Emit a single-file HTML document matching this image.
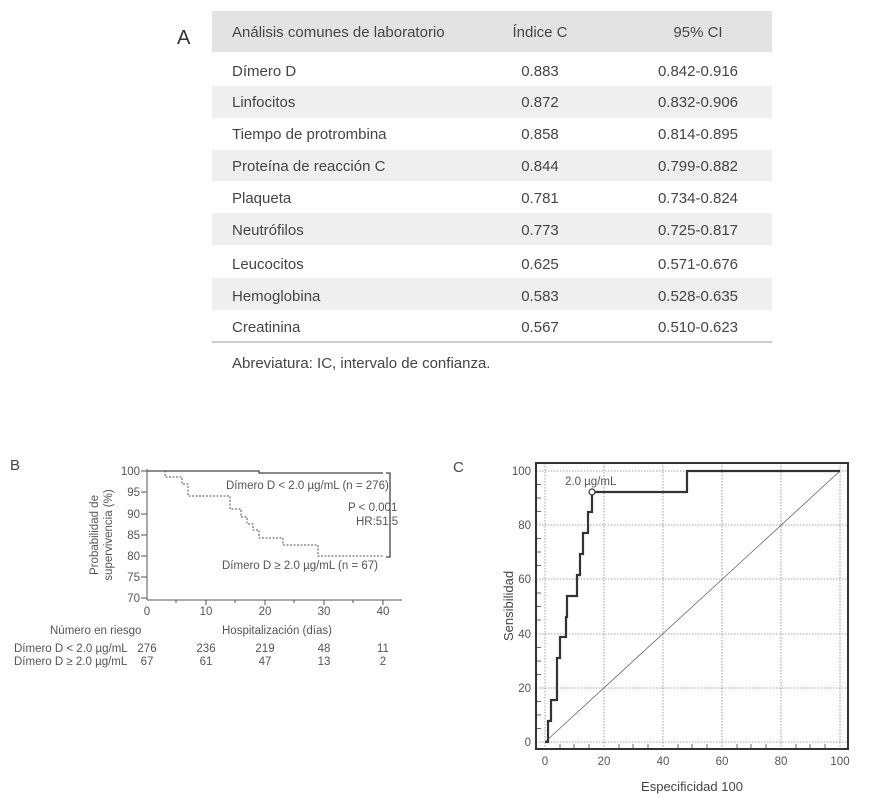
<!DOCTYPE html>
<html><head><meta charset="utf-8"><style>
body{margin:0;width:894px;height:799px;background:#fff;overflow:hidden;font-family:"Liberation Sans",sans-serif;color:#333}
svg{position:absolute;left:0;top:0}
</style></head><body>
<svg width="894" height="799" viewBox="0 0 894 799" font-family="Liberation Sans, sans-serif">
<text x="177" y="44" font-size="20" fill="#333">A</text>
<rect x="212" y="11" width="560" height="41" fill="#e3e3e3"/>
<rect x="212" y="86" width="560" height="32" fill="#efefef"/>
<rect x="212" y="150" width="560" height="31" fill="#efefef"/>
<rect x="212" y="213" width="560" height="32" fill="#efefef"/>
<rect x="212" y="278" width="560" height="32" fill="#efefef"/>
<line x1="212" y1="342" x2="772" y2="342" stroke="#bbb" stroke-width="1.5"/>
<g font-size="15" fill="#444">
<text x="232" y="37">Análisis comunes de laboratorio</text>
<text x="540" y="37" text-anchor="middle">Índice C</text>
<text x="698" y="37" text-anchor="middle">95% CI</text>
<g>
<text x="232" y="76">Dímero D</text><text x="540" y="76" text-anchor="middle">0.883</text><text x="698" y="76" text-anchor="middle">0.842-0.916</text>
<text x="232" y="107">Linfocitos</text><text x="540" y="107" text-anchor="middle">0.872</text><text x="698" y="107" text-anchor="middle">0.832-0.906</text>
<text x="232" y="139">Tiempo de protrombina</text><text x="540" y="139" text-anchor="middle">0.858</text><text x="698" y="139" text-anchor="middle">0.814-0.895</text>
<text x="232" y="171">Proteína de reacción C</text><text x="540" y="171" text-anchor="middle">0.844</text><text x="698" y="171" text-anchor="middle">0.799-0.882</text>
<text x="232" y="203">Plaqueta</text><text x="540" y="203" text-anchor="middle">0.781</text><text x="698" y="203" text-anchor="middle">0.734-0.824</text>
<text x="232" y="235">Neutrófilos</text><text x="540" y="235" text-anchor="middle">0.773</text><text x="698" y="235" text-anchor="middle">0.725-0.817</text>
<text x="232" y="269">Leucocitos</text><text x="540" y="269" text-anchor="middle">0.625</text><text x="698" y="269" text-anchor="middle">0.571-0.676</text>
<text x="232" y="301">Hemoglobina</text><text x="540" y="301" text-anchor="middle">0.583</text><text x="698" y="301" text-anchor="middle">0.528-0.635</text>
<text x="232" y="332">Creatinina</text><text x="540" y="332" text-anchor="middle">0.567</text><text x="698" y="332" text-anchor="middle">0.510-0.623</text>
</g>
<text x="232" y="368">Abreviatura: IC, intervalo de confianza.</text>
</g>

<text x="10" y="470" font-size="15" fill="#444">B</text>
<g stroke="#555" stroke-width="1" fill="none">
<line x1="147" y1="469" x2="147" y2="600"/>
<line x1="147" y1="600" x2="402" y2="600"/>
<line x1="141" y1="471" x2="147" y2="471"/><line x1="141" y1="492" x2="147" y2="492"/><line x1="141" y1="514" x2="147" y2="514"/><line x1="141" y1="535" x2="147" y2="535"/><line x1="141" y1="556" x2="147" y2="556"/><line x1="141" y1="577" x2="147" y2="577"/><line x1="141" y1="598" x2="147" y2="598"/>
<line x1="176" y1="600" x2="176" y2="603"/><line x1="206" y1="600" x2="206" y2="605"/><line x1="235" y1="600" x2="235" y2="603"/><line x1="265" y1="600" x2="265" y2="605"/><line x1="294" y1="600" x2="294" y2="603"/><line x1="324" y1="600" x2="324" y2="605"/><line x1="353" y1="600" x2="353" y2="603"/><line x1="383" y1="600" x2="383" y2="605"/>
<polyline stroke="#444" stroke-width="1.3" points="147,471 259,471 259,473 383,473"/>
<polyline stroke="#555" stroke-width="1" stroke-dasharray="2,1.5" points="147,471 165,471 165,477 182,477 182,484 188,484 188,496 230,496 230,509 241,509 241,517 247,517 247,524 253,524 253,530 259,530 259,538 283,538 283,545 318,545 318,556 383,556"/>
<polyline stroke="#444" stroke-width="1.3" points="386,473 390,473 390,557 386,557"/>
</g>
<g font-size="11.5" fill="#555">
<g text-anchor="end"><text x="140" y="475">100</text><text x="140" y="496">95</text><text x="140" y="518">90</text><text x="140" y="539">85</text><text x="140" y="560">80</text><text x="140" y="581">75</text><text x="140" y="602">70</text></g>
<g text-anchor="middle"><text x="147" y="615">0</text><text x="206" y="615">10</text><text x="265" y="615">20</text><text x="324" y="615">30</text><text x="383" y="615">40</text></g>
<text x="226" y="489">Dímero D &lt; 2.0 µg/mL (n = 276)</text>
<text x="222" y="569">Dímero D ≥ 2.0 µg/mL (n = 67)</text>
<text x="348" y="511">P  &lt; 0.001</text>
<text x="356" y="525">HR:51.5</text>
<text transform="translate(98,535) rotate(-90)" text-anchor="middle">Probabilidad de</text>
<text transform="translate(112,535) rotate(-90)" text-anchor="middle">supervivencia (%)</text>
<text x="50" y="634">Número en riesgo</text>
<text x="222" y="634">Hospitalización (días)</text>
<text x="14" y="652">Dímero D &lt; 2.0 µg/mL</text><text x="14" y="665">Dímero D ≥ 2.0 µg/mL</text>
<g text-anchor="middle"><text x="147" y="652">276</text><text x="206" y="652">236</text><text x="265" y="652">219</text><text x="324" y="652">48</text><text x="383" y="652">11</text>
<text x="147" y="665">67</text><text x="206" y="665">61</text><text x="265" y="665">47</text><text x="324" y="665">13</text><text x="383" y="665">2</text></g>
</g>

<text x="453" y="472" font-size="15" fill="#444">C</text>
<g stroke="#888" stroke-width="0.8" stroke-dasharray="1.5,1.5" fill="none">
<line x1="545" y1="463" x2="545" y2="749"/><line x1="604" y1="463" x2="604" y2="749"/><line x1="663" y1="463" x2="663" y2="749"/><line x1="722" y1="463" x2="722" y2="749"/><line x1="781" y1="463" x2="781" y2="749"/><line x1="840" y1="463" x2="840" y2="749"/>
<line x1="536" y1="471" x2="848" y2="471"/><line x1="536" y1="525" x2="848" y2="525"/><line x1="536" y1="579" x2="848" y2="579"/><line x1="536" y1="634" x2="848" y2="634"/><line x1="536" y1="688" x2="848" y2="688"/><line x1="536" y1="742" x2="848" y2="742"/>
</g>
<g stroke="#444" stroke-width="0.8">
<line x1="536" y1="484.5" x2="541" y2="484.5"/><line x1="536" y1="498" x2="541" y2="498"/><line x1="536" y1="511.5" x2="541" y2="511.5"/>
<line x1="536" y1="538.5" x2="541" y2="538.5"/><line x1="536" y1="552" x2="541" y2="552"/><line x1="536" y1="565.5" x2="541" y2="565.5"/>
<line x1="536" y1="593" x2="541" y2="593"/><line x1="536" y1="606.5" x2="541" y2="606.5"/><line x1="536" y1="620" x2="541" y2="620"/>
<line x1="536" y1="647.5" x2="541" y2="647.5"/><line x1="536" y1="661" x2="541" y2="661"/><line x1="536" y1="674.5" x2="541" y2="674.5"/>
<line x1="536" y1="701.5" x2="541" y2="701.5"/><line x1="536" y1="715" x2="541" y2="715"/><line x1="536" y1="728.5" x2="541" y2="728.5"/>
<line x1="560" y1="744" x2="560" y2="749"/><line x1="574" y1="744" x2="574" y2="749"/><line x1="589" y1="744" x2="589" y2="749"/>
<line x1="619" y1="744" x2="619" y2="749"/><line x1="633" y1="744" x2="633" y2="749"/><line x1="648" y1="744" x2="648" y2="749"/>
<line x1="678" y1="744" x2="678" y2="749"/><line x1="692" y1="744" x2="692" y2="749"/><line x1="707" y1="744" x2="707" y2="749"/>
<line x1="737" y1="744" x2="737" y2="749"/><line x1="751" y1="744" x2="751" y2="749"/><line x1="766" y1="744" x2="766" y2="749"/>
<line x1="796" y1="744" x2="796" y2="749"/><line x1="810" y1="744" x2="810" y2="749"/><line x1="825" y1="744" x2="825" y2="749"/>
</g>
<line x1="545" y1="742" x2="840" y2="471" stroke="#666" stroke-width="0.8"/>
<rect x="536" y="463" width="312" height="286" fill="none" stroke="#333" stroke-width="2"/>
<polyline fill="none" stroke="#333" stroke-width="2.2" points="545,742 548,742 548,721 551,721 551,700 557,700 557,658 560,658 560,637 566,637 566,617 567,617 567,596 577,596 577,575 580,575 580,554 583,554 583,533 588,533 588,512 592,512 592,492 687,492 687,471 840,471"/>
<circle cx="592" cy="492" r="3" fill="#fff" stroke="#333" stroke-width="1.2"/>
<g font-size="11.5" fill="#555">
<text x="565" y="485">2.0 µg/mL</text>
<g text-anchor="end"><text x="531" y="475">100</text><text x="531" y="529">80</text><text x="531" y="583">60</text><text x="531" y="638">40</text><text x="531" y="692">20</text><text x="531" y="746">0</text></g>
<g text-anchor="middle"><text x="545" y="765">0</text><text x="604" y="765">20</text><text x="663" y="765">40</text><text x="722" y="765">60</text><text x="781" y="765">80</text><text x="840" y="765">100</text></g>
</g>
<text x="692" y="791" font-size="13" fill="#444" text-anchor="middle">Especificidad 100</text>
<text transform="translate(513,606) rotate(-90)" font-size="13" fill="#444" text-anchor="middle">Sensibilidad</text>
</svg>
</body></html>
